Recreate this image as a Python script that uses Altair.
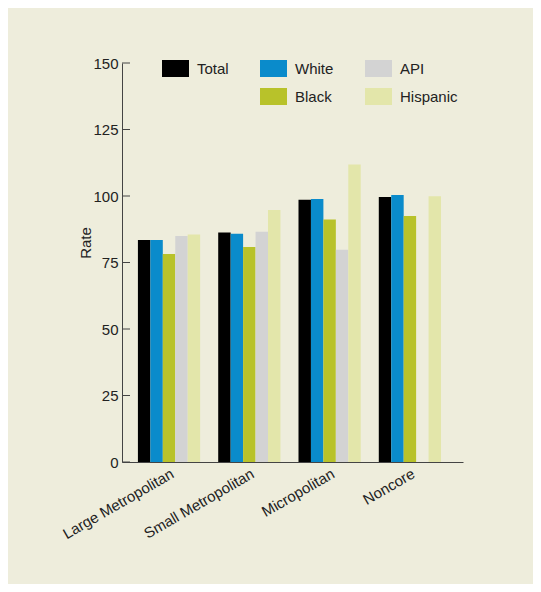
import altair as alt
import pandas as pd

categories = ["Large Metropolitan", "Small Metropolitan", "Micropolitan", "Noncore"]
series = ["Total", "White", "Black", "API", "Hispanic"]
total = [83.5, 86.3, 98.6, 99.6]
white = [83.5, 85.8, 98.9, 100.4]
black = [78.2, 80.8, 91.2, 92.5]
api = [85.0, 86.6, 79.8, None]
hispanic = [85.5, 94.7, 111.8, 99.9]
y_ticks = [0, 25, 50, 75, 100, 125, 150]

values = {"Total": total, "White": white, "Black": black, "API": api, "Hispanic": hispanic}
rows = []
for s in series:
    for c, v in zip(categories, values[s]):
        if v is not None:
            rows.append({"cat": c, "series": s, "rate": v})
df = pd.DataFrame(rows)
ticks_df = pd.DataFrame({"v": y_ticks})

# legend fills column by column (2 rows): Total/blank, White/Black, API/Hispanic
legend_domain = ["Total", " ", "White", "Black", "API", "Hispanic"]
legend_range = ["#000000", "transparent", "#0A8BCB", "#B8C22A", "#D3D3D3", "#E3E6AA"]

FONT = "Liberation Sans"
AXIS_COLOR = "#444444"
TEXT_COLOR = "#222222"

yscale = alt.Scale(domain=[0, 150], nice=False)

bars = alt.Chart(df).mark_bar().encode(
    x=alt.X("cat:N", sort=categories,
            scale=alt.Scale(paddingInner=0.225, paddingOuter=0.236, align=0.42),
            axis=alt.Axis(title=None, labelAngle=330, labelAlign="right", labelBaseline="top",
                          ticks=False, tickSize=0, labelPadding=4, domainColor=AXIS_COLOR,
                          labelFont=FONT, labelFontSize=15, labelColor=TEXT_COLOR)),
    xOffset=alt.XOffset("series:N", sort=series,
                        scale=alt.Scale(domain=series, paddingInner=0, paddingOuter=0)),
    y=alt.Y("rate:Q", scale=yscale,
            axis=alt.Axis(values=y_ticks, title="Rate", ticks=False, tickSize=0, grid=False,
                          labelPadding=4, domainColor=AXIS_COLOR,
                          labelFont=FONT, labelFontSize=15, labelColor=TEXT_COLOR,
                          titleFont=FONT, titleFontSize=15, titleFontWeight="normal",
                          titleColor=TEXT_COLOR, titleX=-32, titleY=179.5,
                          titleAlign="center", titleBaseline="alphabetic")),
    color=alt.Color("series:N",
                    scale=alt.Scale(domain=legend_domain, range=legend_range),
                    legend=alt.Legend(title=None, orient="none", legendX=45, legendY=-3,
                                      columns=3, padding=0, columnPadding=30, rowPadding=11,
                                      symbolType="M-1.59,-1H1.59V1H-1.59Z", symbolSize=289,
                                      symbolStrokeWidth=0, symbolOpacity=1, labelOffset=13,
                                      labelFont=FONT, labelFontSize=15, labelColor=TEXT_COLOR)),
)

tick_marks = alt.Chart(ticks_df).mark_rule(color=AXIS_COLOR, strokeWidth=1).encode(
    y=alt.Y("v:Q", scale=yscale),
    x=alt.value(0),
    x2=alt.value(8),
)

chart = alt.layer(bars, tick_marks).properties(
    width=341,
    height=399,
    autosize=alt.AutoSizeParams(type="none"),
    padding={"left": 114, "top": 55, "right": 70, "bottom": 122},
    background="#EEEDDC",
).configure_view(stroke=None)

chart.save("out.html", embed_options={"renderer": "svg", "actions": False})
